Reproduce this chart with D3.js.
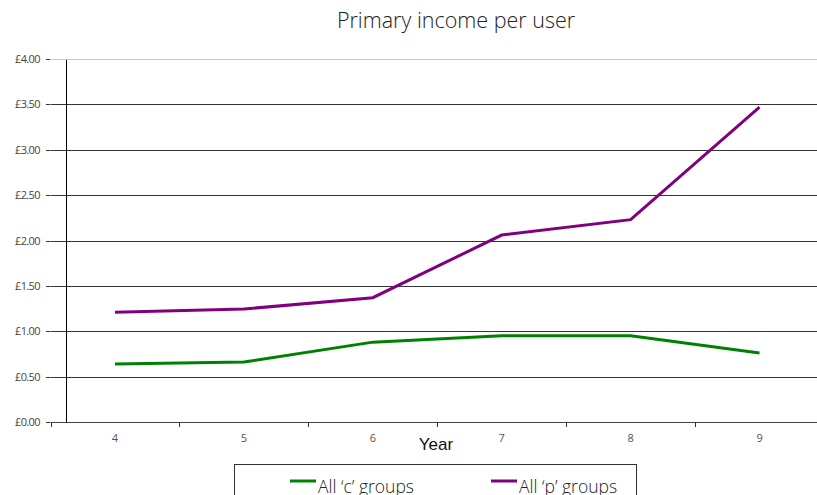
<!DOCTYPE html>
<html>
<head>
<meta charset="utf-8">
<script src="https://cdn.jsdelivr.net/npm/d3@7"></script>
<style>
  html, body { margin: 0; padding: 0; background: #fff; }
  svg { display: block; }
</style>
</head>
<body>
<svg id="chart" width="817" height="495"></svg>
<script>
// Data
const years = ["4", "5", "6", "7", "8", "9"];
const cGroups = [0.64, 0.66, 0.88, 0.95, 0.95, 0.76];
const pGroups = [1.21, 1.245, 1.37, 2.06, 2.23, 3.47];
const yTicks = [0, 0.5, 1, 1.5, 2, 2.5, 3, 3.5, 4];
const seriesNames = ["All \u2018c\u2019 groups", "All \u2018p\u2019 groups"];
const seriesColors = ["#008000", "#800080"];

const svg = d3.select("#chart");
const plotLeft = 50.5, plotRight = 824, plotTop = 59, plotBottom = 422;

const x = d3.scaleBand().domain(years).range([plotLeft, plotRight]);
const y = d3.scaleLinear().domain([0, 4]).range([plotBottom, plotTop]);

// Title
svg.append("text")
  .attr("x", 456).attr("y", 28)
  .attr("text-anchor", "middle")
  .attr("font-family", "'Open Sans', sans-serif")
  .attr("font-weight", 300)
  .attr("font-size", 21.5)
  .attr("fill", "#222")
  .text("Primary income per user");

// Horizontal gridlines
svg.append("g").selectAll("line").data(yTicks).join("line")
  .attr("x1", plotLeft).attr("x2", 817)
  .attr("y1", d => Math.round(y(d)) + 0.5).attr("y2", d => Math.round(y(d)) + 0.5)
  .attr("stroke", d => d === 4 ? "#c8c8c8" : (d === 0 ? "#444" : "#333"))
  .attr("stroke-width", 1);

// Y axis ticks and labels
const yAxis = svg.append("g");
yAxis.selectAll("line").data(yTicks).join("line")
  .attr("x1", 46).attr("x2", 50)
  .attr("y1", d => Math.round(y(d)) + 0.5).attr("y2", d => Math.round(y(d)) + 0.5)
  .attr("stroke", "#333");
yAxis.selectAll("text").data(yTicks).join("text")
  .attr("x", 40).attr("y", d => y(d) + 4)
  .attr("text-anchor", "end")
  .attr("font-family", "'Open Sans', sans-serif")
  .attr("font-size", 11)
  .attr("letter-spacing", -0.6)
  .attr("fill", "#444")
  .text(d => "\u00a3" + d.toFixed(2));

// Vertical axis line
svg.append("line")
  .attr("x1", 66.5).attr("x2", 66.5)
  .attr("y1", plotTop + 1).attr("y2", plotBottom)
  .attr("stroke", "#000");

// X axis: tick marks at category boundaries
const bounds = years.slice(1).map(c => x(c));
svg.append("g").selectAll("line").data([plotLeft].concat(bounds)).join("line")
  .attr("x1", d => Math.round(d) + 0.5).attr("x2", d => Math.round(d) + 0.5)
  .attr("y1", plotBottom).attr("y2", plotBottom + 5)
  .attr("stroke", "#333");

svg.append("g").selectAll("text").data(years).join("text")
  .attr("x", d => x(d) + x.bandwidth() / 2)
  .attr("y", plotBottom + 20)
  .attr("text-anchor", "middle")
  .attr("font-family", "'Open Sans', sans-serif")
  .attr("font-size", 11)
  .attr("fill", "#555")
  .text(d => d);

svg.append("text")
  .attr("x", 436).attr("y", 450)
  .attr("text-anchor", "middle")
  .attr("font-family", "'Liberation Sans', Arial, sans-serif")
  .attr("font-weight", 400)
  .attr("font-size", 17)
  .attr("fill", "#111")
  .text("Year");

// Lines
const line = d3.line()
  .x((d, i) => x(years[i]) + x.bandwidth() / 2)
  .y(d => y(d));

[cGroups, pGroups].forEach((vals, i) => {
  svg.append("path")
    .datum(vals)
    .attr("d", line)
    .attr("fill", "none")
    .attr("stroke", seriesColors[i])
    .attr("stroke-width", 3)
    .attr("stroke-linejoin", "miter");
});

// Legend
const legend = svg.append("g");
legend.append("rect")
  .attr("x", 234.5).attr("y", 464.5)
  .attr("width", 402).attr("height", 40)
  .attr("fill", "#fff").attr("stroke", "#333");
const legendX = [290, 491];
seriesNames.forEach((name, i) => {
  legend.append("line")
    .attr("x1", legendX[i]).attr("x2", legendX[i] + 26)
    .attr("y1", 481).attr("y2", 481)
    .attr("stroke", seriesColors[i]).attr("stroke-width", 3);
  legend.append("text")
    .attr("x", legendX[i] + 28).attr("y", 493)
    .attr("font-family", "'Open Sans', sans-serif")
    .attr("font-weight", 300)
    .attr("font-size", 17.5)
    .attr("fill", "#222")
    .text(name);
});
</script>
</body>
</html>
